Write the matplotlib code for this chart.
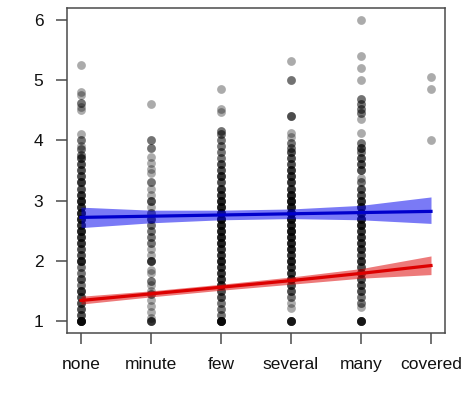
import matplotlib
matplotlib.use("Agg")
import matplotlib.pyplot as plt
import numpy as np

plt.rcParams["font.family"] = ["Liberation Sans", "DejaVu Sans"]

categories = ["none", "minute", "few", "several", "many", "covered"]

# observed scores per category (value, how many points stack there)
none_vals = [5.25, 4.8, 4.75, 4.62, 4.55, 4.5, 4.1, 4.0, 3.9, 3.85, 3.75, 3.7, 3.6, 3.5, 3.4,
             3.3, 3.2, 3.1, 3.0, 2.9, 2.8, 2.7, 2.6, 2.5, 2.4, 2.3, 2.2, 2.1, 2.0, 1.9, 1.8,
             1.7, 1.6, 1.5, 1.4, 1.3, 1.2, 1.1, 1.0]
none_counts = [1, 1, 1, 2, 1, 1, 1, 2, 1, 2, 2, 3, 3, 3, 3,
               4, 3, 4, 5, 4, 5, 5, 4, 5, 4, 4, 3, 3, 5, 2, 2,
               3, 2, 4, 3, 3, 3, 3, 8]

minute_vals = [4.6, 4.0, 3.87, 3.72, 3.62, 3.52, 3.45, 3.3, 3.2, 3.1, 3.0, 2.9, 2.8, 2.7, 2.6,
               2.5, 2.4, 2.3, 2.2, 2.1, 2.0, 1.85, 1.8, 1.67, 1.6, 1.5, 1.45, 1.35, 1.25,
               1.15, 1.05, 1.0]
minute_counts = [1, 2, 2, 1, 1, 1, 1, 2, 1, 1, 3, 1, 2, 3, 2,
                 2, 2, 2, 1, 1, 4, 1, 1, 2, 1, 1, 2, 1, 1,
                 1, 1, 4]

few_vals = [4.85, 4.52, 4.47, 4.15, 4.1, 4.0, 3.9, 3.8, 3.7, 3.6, 3.5, 3.4, 3.3, 3.2, 3.1,
            3.0, 2.9, 2.8, 2.7, 2.6, 2.5, 2.4, 2.3, 2.2, 2.1, 2.0, 1.9, 1.8, 1.7, 1.6,
            1.5, 1.4, 1.3, 1.2, 1.1, 1.0]
few_counts = [1, 1, 1, 2, 2, 2, 2, 2, 2, 3, 3, 4, 3, 4, 4,
              5, 5, 5, 6, 5, 5, 5, 5, 4, 4, 5, 4, 4, 4, 4,
              3, 3, 2, 2, 2, 8]

several_vals = [5.32, 5.0, 4.4, 4.13, 4.05, 3.95, 3.88, 3.8, 3.7, 3.6, 3.5, 3.4, 3.3, 3.2,
                3.1, 3.0, 2.9, 2.8, 2.7, 2.6, 2.5, 2.4, 2.3, 2.2, 2.1, 2.0, 1.9, 1.8, 1.7,
                1.6, 1.5, 1.4, 1.3, 1.22, 1.0]
several_counts = [1, 2, 3, 1, 1, 2, 2, 3, 3, 3, 4, 4, 4, 4,
                  5, 6, 5, 6, 6, 5, 6, 5, 5, 5, 4, 5, 4, 4, 4,
                  3, 3, 2, 1, 1, 6]

many_vals = [6.0, 5.4, 5.2, 5.0, 4.68, 4.6, 4.52, 4.45, 4.35, 4.13, 3.95, 3.88, 3.8, 3.7,
             3.6, 3.5, 3.38, 3.3, 3.2, 3.1, 3.0, 2.9, 2.8, 2.7, 2.6, 2.5, 2.4, 2.3, 2.2,
             2.1, 2.0, 1.9, 1.8, 1.7, 1.6, 1.5, 1.4, 1.3, 1.23, 1.0]
many_counts = [1, 1, 1, 1, 2, 2, 2, 2, 1, 1, 2, 3, 2, 3,
               3, 3, 1, 2, 3, 3, 4, 4, 4, 5, 5, 4, 4, 4, 4,
               3, 4, 3, 3, 3, 3, 3, 2, 2, 1, 6]

covered_vals = [5.05, 4.86, 4.0]
covered_counts = [1, 1, 1]

# fitted lines with confidence bands at each category
blue_fit = [2.72, 2.74, 2.76, 2.78, 2.80, 2.82]
blue_lo = [2.55, 2.63, 2.68, 2.70, 2.68, 2.62]
blue_hi = [2.89, 2.84, 2.84, 2.86, 2.92, 3.06]
red_fit = [1.34, 1.45, 1.56, 1.67, 1.79, 1.92]
red_lo = [1.28, 1.40, 1.51, 1.61, 1.71, 1.77]
red_hi = [1.41, 1.50, 1.61, 1.73, 1.87, 2.08]

all_vals = [none_vals, minute_vals, few_vals, several_vals, many_vals, covered_vals]
all_counts = [none_counts, minute_counts, few_counts, several_counts, many_counts, covered_counts]

fig = plt.figure(figsize=(4.61, 3.95), dpi=100)
ax = fig.add_axes([0.1453, 0.157, 0.82, 0.823])

for i, (vals, counts) in enumerate(zip(all_vals, all_counts)):
    y = np.repeat(vals, counts)
    ax.scatter(np.full(len(y), i), y, s=40, color="black", alpha=0.33, linewidths=0, zorder=2)

x = np.arange(len(categories))
ax.fill_between(x, blue_lo, blue_hi, color="#0000ee", alpha=0.52, linewidth=0, zorder=3)
ax.plot(x, blue_fit, color="#0000cc", lw=2.3, zorder=4)
ax.fill_between(x, red_lo, red_hi, color="#dd0000", alpha=0.52, linewidth=0, zorder=3)
ax.plot(x, red_fit, color="#dd0000", lw=2.3, zorder=4)

ax.set_xlim(-0.2, 5.2)
ax.set_ylim(0.8, 6.2)
ax.set_xticks(x)
ax.set_xticklabels(categories)
ax.set_yticks([1, 2, 3, 4, 5, 6])
for spine in ax.spines.values():
    spine.set_color("#4a4a4a")
    spine.set_linewidth(1.1)
ax.tick_params(axis="both", length=8, width=1.1, color="#4a4a4a", labelsize=12.5)
ax.tick_params(axis="x", pad=9)
ax.tick_params(axis="y", pad=9)
for lab in ax.get_xticklabels() + ax.get_yticklabels():
    lab.set_color("#111111")

fig.savefig("out.png", dpi=100)
